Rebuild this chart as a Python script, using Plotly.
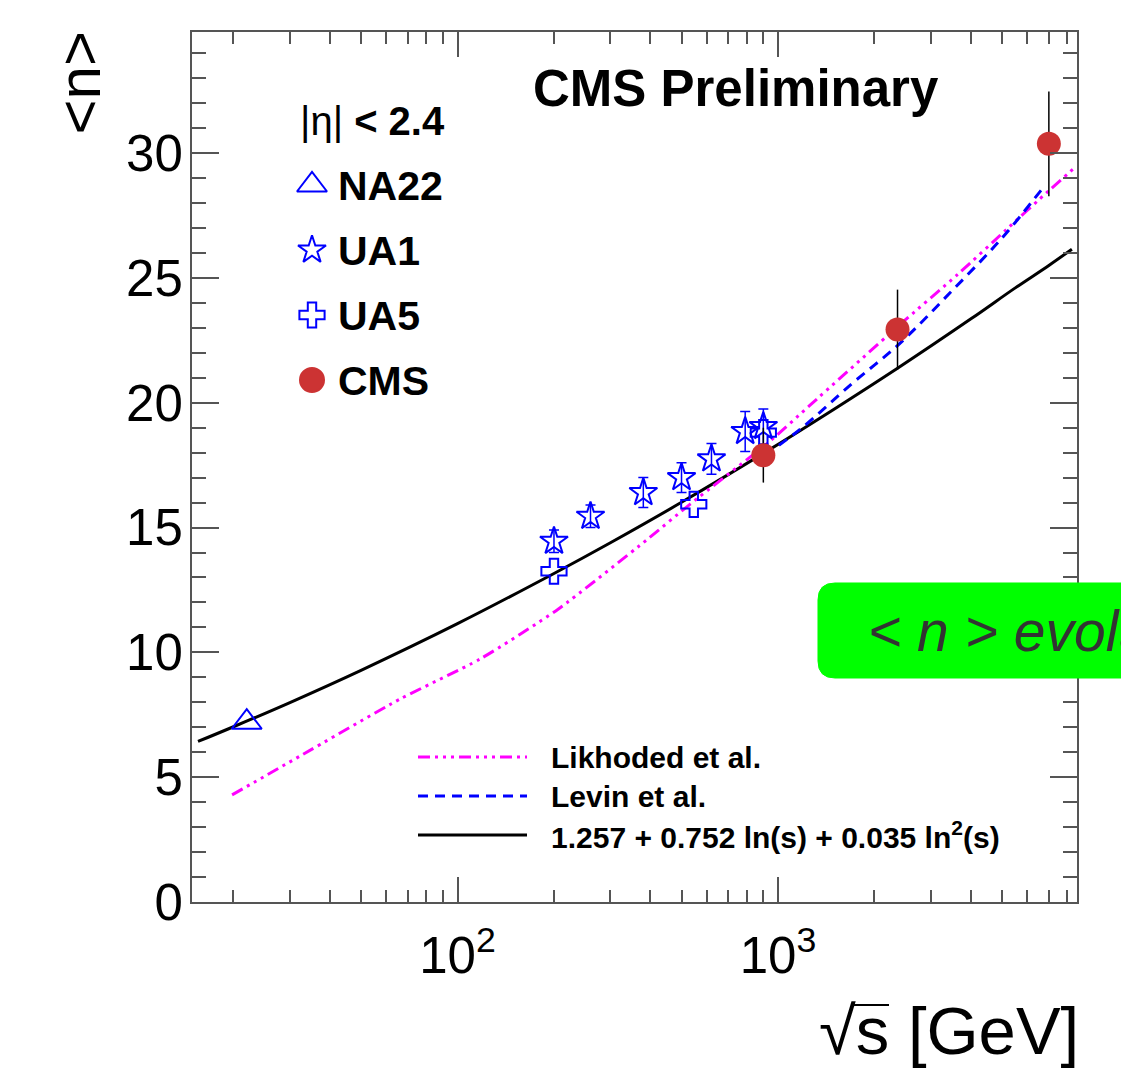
import plotly.graph_objects as go

# ---------------- data ----------------
na22_x = [22]
na22_y = [7.2]

ua1_x = [200, 260, 380, 500, 620, 790, 900]
ua1_y = [14.45, 15.45, 16.4, 17.0, 17.75, 18.85, 19.05]
ua1_err = [0.45, 0.45, 0.6, 0.6, 0.62, 0.8, 0.7]

ua5_x = [200, 546, 900]
ua5_y = [13.25, 15.93, 18.8]

cms_x = [900, 2360, 7000]
cms_y = [17.9, 22.93, 30.37]
cms_err = [1.1, 1.6, 2.1]

fit_x = [15.5, 20, 30, 50, 100, 200, 300, 500, 900, 1500, 2360, 4000, 5500, 7000, 8260]
fit_y = [6.43, 7.02, 7.99, 9.28, 11.15, 13.16, 14.39, 16.01, 17.97, 19.75, 21.38, 23.36, 24.6, 25.5, 26.15]

likh_x = [19.8, 32.3, 66.2, 117.5, 206, 389, 531, 944, 1259, 2387, 3645, 5171, 7008, 8510]
likh_y = [4.29, 5.85, 8.13, 9.73, 11.73, 14.5, 15.93, 18.46, 19.9, 23.1, 25.15, 26.95, 28.5, 29.46]

levin_x = [910, 1171, 1714, 2387, 3500, 5000, 6800]
levin_y = [17.9, 18.93, 20.8, 22.35, 24.5, 26.6, 28.7]

y_ticks = [0, 5, 10, 15, 20, 25, 30]
x_ticks = [100, 1000]
x_ticktext = ["10<sup>2</sup>", "10<sup>3</sup>"]
x_minor = [20, 30, 40, 50, 60, 70, 80, 90,
           200, 300, 400, 500, 600, 700, 800, 900,
           2000, 3000, 4000, 5000, 6000, 7000, 8000]

legend_names = ["NA22", "UA1", "UA5", "CMS"]
curve_names = ["Likhoded et al.", "Levin et al.", "1.257 + 0.752 ln(s) + 0.035 ln<sup>2</sup>(s)"]

# ---------------- geometry (screen pixels) ----------------
W, H = 1121, 1070
L, R, T, B = 192, 1077, 32, 902   # plot frame


def px(x, y):
    return (x - L) / (R - L), (B - y) / (B - T)


FONT = "Liberation Sans"
BLUE = "#0000ff"
RED = "#cc3333"
MAG = "#ff00ff"
GRAY = "#555555"
DASH_LIK = "12px,5px,3px,5px,3px,5px,3px,5px"
DASH_LEV = "10px,7px"

fig = go.Figure()

# curves
fig.add_trace(go.Scatter(x=fit_x, y=fit_y, mode="lines", line=dict(color="black", width=3, shape="spline"),
                         showlegend=False))
fig.add_trace(go.Scatter(x=likh_x, y=likh_y, mode="lines",
                         line=dict(color=MAG, width=3, dash=DASH_LIK, shape="spline", smoothing=0.6),
                         showlegend=False))
fig.add_trace(go.Scatter(x=levin_x, y=levin_y, mode="lines",
                         line=dict(color=BLUE, width=3, dash=DASH_LEV, shape="spline"),
                         showlegend=False))

# data points
fig.add_trace(go.Scatter(x=na22_x, y=na22_y, mode="markers",
                         marker=dict(symbol="triangle-up-open", size=26, color=BLUE, line=dict(width=2)),
                         showlegend=False))
fig.add_trace(go.Scatter(x=ua1_x, y=ua1_y, mode="markers",
                         error_y=dict(type="data", array=ua1_err, color=BLUE, thickness=1.5, width=5),
                         marker=dict(symbol="star-open", size=21, color=BLUE, line=dict(width=2)),
                         showlegend=False))
fig.add_trace(go.Scatter(x=ua5_x, y=ua5_y, mode="markers",
                         marker=dict(symbol="cross-open", size=21, color=BLUE, line=dict(width=2)),
                         showlegend=False))
fig.add_trace(go.Scatter(x=cms_x, y=cms_y, mode="markers",
                         error_y=dict(type="data", array=cms_err, color="black", thickness=1.5, width=0),
                         marker=dict(symbol="circle", size=24, color=RED),
                         showlegend=False))

# legend keys (top-left) on a pixel overlay axis
leg_sym = ["triangle-up-open", "star-open", "cross-open", "circle"]
leg_size = [26, 21, 21, 24]
leg_col = [BLUE, BLUE, BLUE, RED]
leg_y = [185, 250, 315, 380]
for sym, sz, col, yy in zip(leg_sym, leg_size, leg_col, leg_y):
    fig.add_trace(go.Scatter(x=[312], y=[yy], xaxis="x2", yaxis="y2", mode="markers",
                             marker=dict(symbol=sym, size=sz, color=col, line=dict(width=2, color=col)),
                             showlegend=False, hoverinfo="skip"))

annotations = []
shapes = []

# top-left legend texts
ax, ay = px(298, 121)
annotations.append(dict(x=ax, y=ay, xref="paper", yref="paper", xanchor="left", yanchor="middle", showarrow=False,
                        text="|η| <b>&lt; 2.4</b>", font=dict(family=FONT, size=40, color="black")))
for name, yy in zip(legend_names, leg_y):
    ax, ay = px(336, yy + 1)
    annotations.append(dict(x=ax, y=ay, xref="paper", yref="paper", xanchor="left", yanchor="middle",
                            showarrow=False, text="<b>%s</b>" % name,
                            font=dict(family=FONT, size=41, color="black")))

# title
ax, ay = px(736, 88)
annotations.append(dict(x=ax, y=ay, xref="paper", yref="paper", xanchor="center", yanchor="middle", showarrow=False,
                        text="<b>CMS Preliminary</b>", font=dict(family=FONT, size=51, color="black")))

# bottom legend
curve_cols = [MAG, BLUE, "black"]
curve_dash = [DASH_LIK, DASH_LEV, "solid"]
curve_y = [757, 796, 835]
for name, col, dsh, yy in zip(curve_names, curve_cols, curve_dash, curve_y):
    x0, y0 = px(418, yy)
    x1, _ = px(527, yy)
    shapes.append(dict(type="line", xref="paper", yref="paper", x0=x0, x1=x1, y0=y0, y1=y0,
                       line=dict(color=col, width=3, dash=dsh)))
    tx, ty = px(549, yy)
    annotations.append(dict(x=tx, y=ty, xref="paper", yref="paper", xanchor="left", yanchor="middle",
                            showarrow=False, text="<b>%s</b>" % name,
                            font=dict(family=FONT, size=30, color="black")))

# axis titles
ax, ay = px(79, 30)
annotations.append(dict(x=ax, y=ay, xref="paper", yref="paper", xanchor="center", yanchor="top", showarrow=False,
                        textangle=-90, text="&lt;n&gt;", font=dict(family=FONT, size=60, color="black")))
ax, ay = px(1081, 1030)
annotations.append(dict(x=ax, y=ay, xref="paper", yref="paper", xanchor="right", yanchor="middle", showarrow=False,
                        text="√s [GeV]", font=dict(family=FONT, size=67, color="black")))
# overline of the square root
ox0, oy = px(851, 1005)
ox1, _ = px(889, 1005)
shapes.append(dict(type="line", xref="paper", yref="paper", x0=ox0, x1=ox1, y0=oy, y1=oy,
                   line=dict(color="black", width=2)))

# green box with clipped text
r = 17
bx0, by0, bx1, by1 = 818, 583, 1160, 678


def P(x, y):
    a, b = px(x, y)
    return "%.5f,%.5f" % (a, b)


path = ("M " + P(bx0 + r, by0) + " L " + P(bx1, by0) + " L " + P(bx1, by1) + " L " + P(bx0 + r, by1) +
        " Q " + P(bx0, by1) + " " + P(bx0, by1 - r) + " L " + P(bx0, by0 + r) +
        " Q " + P(bx0, by0) + " " + P(bx0 + r, by0) + " Z")
shapes.append(dict(type="path", xref="paper", yref="paper", path=path, fillcolor="#00ff00",
                   line=dict(color="#00ff00", width=1), layer="above"))
ax, ay = px(866, 631)
annotations.append(dict(x=ax, y=ay, xref="paper", yref="paper", xanchor="left", yanchor="middle", showarrow=False,
                        text="<i>&lt; n &gt; evolution</i>", font=dict(family=FONT, size=57, color="#333333")))

fig.update_layout(
    width=W, height=H,
    margin=dict(l=L, r=W - R, t=T, b=H - B),
    paper_bgcolor="white", plot_bgcolor="white",
    showlegend=False,
    annotations=annotations, shapes=shapes,
    xaxis=dict(type="log", range=[1.1716, 3.9329], tickmode="array", tickvals=x_ticks, ticktext=x_ticktext,
               ticks="inside", ticklen=25, tickwidth=2, tickcolor=GRAY,
               showline=True, linecolor=GRAY, linewidth=2, mirror="ticks",
               showgrid=False, zeroline=False, ticklabelstandoff=8,
               tickfont=dict(family=FONT, size=51, color="black"),
               minor=dict(tickmode="array", tickvals=x_minor, ticks="inside", ticklen=12, tickwidth=2,
                          tickcolor=GRAY, showgrid=False)),
    yaxis=dict(range=[0, 34.85], tickmode="array", tickvals=y_ticks,
               ticks="inside", ticklen=27, tickwidth=2, tickcolor=GRAY,
               showline=True, linecolor=GRAY, linewidth=2, mirror="ticks",
               showgrid=False, zeroline=False, ticklabelstandoff=-3,
               tickfont=dict(family=FONT, size=51, color="black"),
               minor=dict(dtick=1, ticks="inside", ticklen=14, tickwidth=2, tickcolor=GRAY, showgrid=False)),
    xaxis2=dict(overlaying="x", anchor="y2", range=[L, R], visible=False, fixedrange=True),
    yaxis2=dict(overlaying="y", anchor="x2", range=[B, T], visible=False, fixedrange=True),
)

fig.write_html("out.html", config={"displayModeBar": False},
               post_script="document.body.style.margin='0';document.body.style.overflow='hidden';")
